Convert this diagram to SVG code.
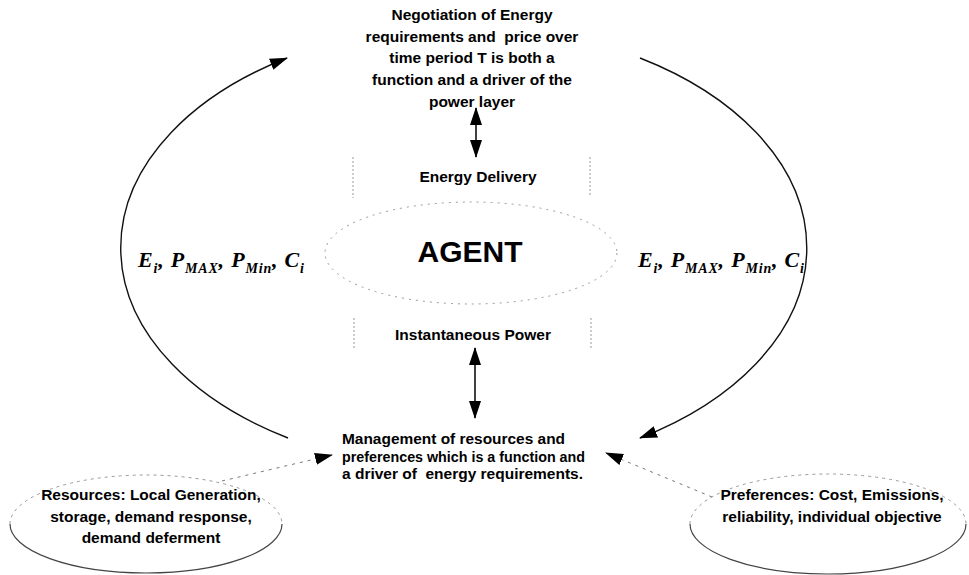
<svg xmlns="http://www.w3.org/2000/svg" width="969" height="575" viewBox="0 0 969 575">
<defs>
<style>
.t{font-family:"Liberation Sans",Arial,sans-serif;font-weight:bold;font-size:15.5px;fill:#000}
.c{text-anchor:middle}
.m{font-family:"Liberation Serif","Times New Roman",serif;font-weight:bold;font-style:italic;font-size:22px;fill:#000}
.s{font-size:14px}
.arc{fill:none;stroke:#111;stroke-width:1.4}
.dash{fill:none;stroke:#777;stroke-width:1;stroke-dasharray:3 5}
.box{fill:none;stroke:#999;stroke-width:1;stroke-dasharray:2 2}
.ell-top{fill:none;stroke:#999;stroke-width:1;stroke-dasharray:3 4}
.ell-bot{fill:none;stroke:#444;stroke-width:1.2}
</style>
<marker id="ah" viewBox="0 0 18 12" refX="17" refY="6" markerWidth="18" markerHeight="12" markerUnits="userSpaceOnUse" orient="auto-start-reverse">
<path d="M0,0 L18,6 L0,12 z" fill="#000"/>
</marker>
</defs>
<rect width="969" height="575" fill="#fff"/>

<g id="connectors">
<path class="arc" d="M288,438 A350,223 0 0 1 287,58" marker-end="url(#ah)"/>
<path class="arc" d="M640,58 A350,223 0 0 1 640,438" marker-end="url(#ah)"/>
<line x1="476" y1="108" x2="476" y2="157" stroke="#000" stroke-width="1.5" marker-start="url(#ah)" marker-end="url(#ah)"/>
<line x1="475" y1="348" x2="475" y2="418" stroke="#000" stroke-width="1.5" marker-start="url(#ah)" marker-end="url(#ah)"/>
<line class="dash" x1="222" y1="481" x2="332" y2="455" marker-end="url(#ah)"/>
<line class="dash" x1="712" y1="497" x2="606" y2="453" marker-end="url(#ah)"/>
</g>

<g id="negotiation">
<text class="t c" x="472" y="20">Negotiation of Energy</text>
<text class="t c" x="472" y="42" xml:space="preserve">requirements and  price over</text>
<text class="t c" x="472" y="63">time period T is both a</text>
<text class="t c" x="472" y="85">function and a driver of the</text>
<text class="t c" x="472" y="107">power layer</text>
</g>

<g id="energy-delivery">
<line class="box" x1="353" y1="157" x2="353" y2="198"/>
<line class="box" x1="590" y1="157" x2="590" y2="196"/>
<text class="t c" x="478" y="182">Energy Delivery</text>
</g>

<g id="agent">
<ellipse cx="471" cy="253" rx="146" ry="51" fill="none" stroke="#999" stroke-width="1" stroke-dasharray="2 5"/>
<text x="470" y="262" text-anchor="middle" font-family="'Liberation Sans',Arial,sans-serif" font-weight="bold" font-size="30">AGENT</text>
</g>

<g id="params-left">
<text class="m" x="138" y="267" textLength="166" lengthAdjust="spacing">E<tspan class="s" dy="6">i</tspan><tspan dy="-6">, P</tspan><tspan class="s" dy="6">MAX</tspan><tspan dy="-6">, P</tspan><tspan class="s" dy="6">Min</tspan><tspan dy="-6">, C</tspan><tspan class="s" dy="6">i</tspan></text>
</g>

<g id="params-right">
<text class="m" x="638" y="267" textLength="166" lengthAdjust="spacing">E<tspan class="s" dy="6">i</tspan><tspan dy="-6">, P</tspan><tspan class="s" dy="6">MAX</tspan><tspan dy="-6">, P</tspan><tspan class="s" dy="6">Min</tspan><tspan dy="-6">, C</tspan><tspan class="s" dy="6">i</tspan></text>
</g>

<g id="instantaneous-power">
<line class="box" x1="354" y1="318" x2="354" y2="350"/>
<line class="box" x1="591" y1="318" x2="591" y2="350"/>
<text class="t c" x="473" y="340">Instantaneous Power</text>
</g>

<g id="management">
<text class="t" x="342" y="444" textLength="223" lengthAdjust="spacingAndGlyphs">Management of resources and</text>
<text class="t" x="342" y="461.5" textLength="243" lengthAdjust="spacingAndGlyphs">preferences which is a function and</text>
<text class="t" x="342" y="479" xml:space="preserve" textLength="241" lengthAdjust="spacingAndGlyphs">a driver of  energy requirements.</text>
</g>

<g id="resources">
<path class="ell-top" d="M10,524 A136,49 0 0 1 282,524"/>
<path class="ell-bot" d="M282,524 A136,49 0 0 1 10,524"/>
<text class="t c" x="151" y="500">Resources: Local Generation,</text>
<text class="t c" x="151" y="522">storage, demand response,</text>
<text class="t c" x="151" y="543">demand deferment</text>
</g>

<g id="preferences">
<path class="ell-top" d="M690,524 A138,50 0 0 1 966,524"/>
<path class="ell-bot" d="M966,524 A138,50 0 0 1 690,524"/>
<text class="t c" x="832" y="500">Preferences: Cost, Emissions,</text>
<text class="t c" x="832" y="522">reliability, individual objective</text>
</g>
</svg>
